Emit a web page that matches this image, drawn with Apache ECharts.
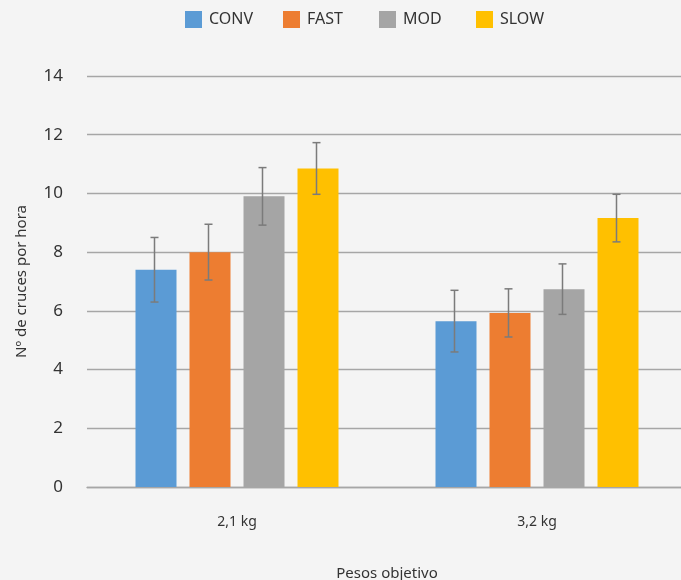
<!DOCTYPE html>
<html>
<head>
<meta charset="utf-8">
<script src="https://cdn.jsdelivr.net/npm/echarts@6/dist/echarts.min.js"></script>
<style>
html,body{margin:0;padding:0;background:#f4f4f4;}
#chart{width:681px;height:580px;}
</style>
</head>
<body>
<div id="chart"></div>
<script>
var categories = ['2,1 kg', '3,2 kg'];
var seriesNames = ['CONV', 'FAST', 'MOD', 'SLOW'];
var convValues = [7.4, 5.65];
var convErrors = [1.1, 1.05];
var fastValues = [8.0, 5.93];
var fastErrors = [0.95, 0.82];
var modValues = [9.9, 6.74];
var modErrors = [0.98, 0.86];
var slowValues = [10.85, 9.16];
var slowErrors = [0.88, 0.81];
var yTicks = [0, 2, 4, 6, 8, 10, 12, 14];

var colors = ['#5b9bd5', '#ed7d31', '#a5a5a5', '#ffc000'];
var legendLefts = [185, 283, 379, 476];
var allValues = [convValues, fastValues, modValues, slowValues];
var allErrors = [convErrors, fastErrors, modErrors, slowErrors];
var BAR_W = 41, BAR_GAP = 13;
var FONT = '"Noto Sans", sans-serif';

var chart = echarts.init(document.getElementById('chart'), null, {renderer: 'canvas'});
var series = [];
seriesNames.forEach(function (name, i) {
  series.push({
    name: name,
    type: 'bar',
    data: allValues[i],
    barWidth: BAR_W,
    barGap: (BAR_GAP / BAR_W * 100).toFixed(1) + '%',
    itemStyle: {color: colors[i]},
    z: 2
  });
});
seriesNames.forEach(function (name, i) {
  var data = categories.map(function (c, k) {
    return [k, allValues[i][k], allErrors[i][k]];
  });
  series.push({
    name: name + ' error',
    type: 'custom',
    data: data,
    z: 5,
    silent: true,
    renderItem: function (params, api) {
      var k = api.value(0), v = api.value(1), e = api.value(2);
      var off = (i - 1.5) * (BAR_W + BAR_GAP) - 1.5;
      var hi = api.coord([k, v + e]);
      var lo = api.coord([k, v - e]);
      var x = hi[0] + off;
      var cap = 4;
      var st = {stroke: '#7b7b7b', lineWidth: 1.5};
      return {
        type: 'group',
        children: [
          {type: 'line', shape: {x1: x, y1: hi[1], x2: x, y2: lo[1]}, style: st},
          {type: 'line', shape: {x1: x - cap, y1: hi[1], x2: x + cap, y2: hi[1]}, style: st},
          {type: 'line', shape: {x1: x - cap, y1: lo[1], x2: x + cap, y2: lo[1]}, style: st}
        ]
      };
    }
  });
});

var legends = seriesNames.map(function (name, i) {
  return {
    data: [name],
    left: legendLefts[i],
    top: 11,
    padding: 0,
    itemWidth: 17,
    itemHeight: 17,
    itemGap: 0,
    icon: 'rect',
    textStyle: {fontFamily: FONT, fontSize: 16, color: '#333', padding: [0, 0, 0, 2]}
  };
});

chart.setOption({
  backgroundColor: '#f4f4f4',
  animation: false,
  textStyle: {fontFamily: FONT},
  legend: legends,
  grid: {left: 87, top: 76, width: 600, height: 411, containLabel: false, outerBoundsMode: 'none'},
  xAxis: {
    type: 'category',
    data: categories,
    name: 'Pesos objetivo',
    nameLocation: 'middle',
    nameGap: 79,
    nameTextStyle: {fontFamily: FONT, fontSize: 15, color: '#333'},
    axisLine: {lineStyle: {color: '#a6a6a6', width: 1.3}},
    axisTick: {show: false},
    axisLabel: {margin: 28, fontFamily: FONT, fontSize: 14, color: '#333'}
  },
  yAxis: {
    type: 'value',
    min: yTicks[0],
    max: yTicks[yTicks.length - 1],
    interval: yTicks[1] - yTicks[0],
    name: 'Nº de cruces por hora',
    nameLocation: 'middle',
    nameGap: 58,
    nameTextStyle: {fontFamily: FONT, fontSize: 15, color: '#333'},
    axisLine: {show: false},
    axisTick: {show: false},
    axisLabel: {margin: 24, fontFamily: FONT, fontSize: 17, color: '#333'},
    splitLine: {lineStyle: {color: '#a6a6a6', width: 1.3}}
  },
  series: series
});
</script>
</body>
</html>
